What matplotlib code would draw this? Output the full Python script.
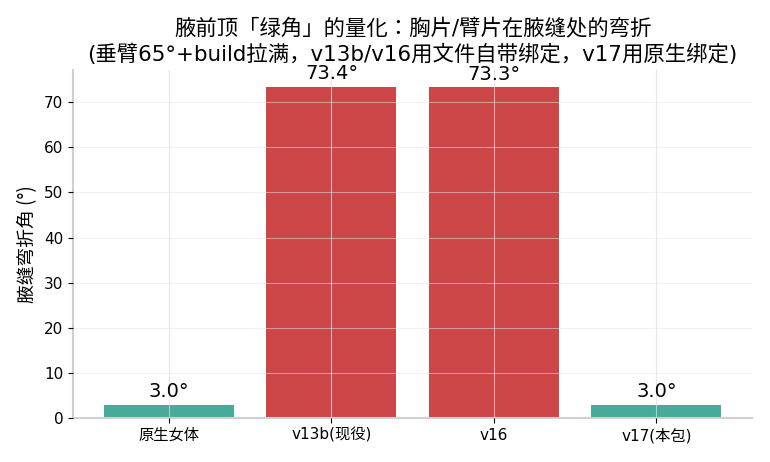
import matplotlib
matplotlib.use("Agg")
import matplotlib.pyplot as plt

categories = ["原生女体", "v13b(现役)", "v16", "v17(本包)"]
values = [3.0, 73.4, 73.3, 3.0]
colors = ["#46ab9a", "#cc4547", "#cc4547", "#46ab9a"]
labels = ["3.0°", "73.4°", "73.3°", "3.0°"]

plt.rcParams['font.family'] = ['DejaVu Sans', 'Noto Sans CJK JP']

fig, ax = plt.subplots(figsize=(7.7, 4.62), dpi=100)
ax.set_facecolor("white")
x = range(len(categories))
bars = ax.bar(x, values, width=0.8, color=colors, zorder=1)
ax.set_xticks(list(x))
ax.set_xticklabels(categories, fontsize=11)
ax.tick_params(axis='y', labelsize=11)
for b, lab in zip(bars, labels):
    ax.text(b.get_x() + b.get_width() / 2, b.get_height() + 0.8, lab,
            ha='center', va='bottom', fontsize=14)
ax.set_ylim(0, 77.07)
ax.set_ylabel("腋缝弯折角 (°)", fontsize=13.5, family=['Noto Sans CJK JP', 'DejaVu Sans'])
ax.set_title("腋前顶「绿角」的量化：胸片/臂片在腋缝处的弯折\n(垂臂65°+build拉满，v13b/v16用文件自带绑定，v17用原生绑定)",
             fontsize=15.4, pad=7)
ax.xaxis.grid(True, color="#dddddd", linewidth=0.8, alpha=0.7, zorder=2)
ax.yaxis.grid(True, color="#e6e6e6", linewidth=0.8, alpha=0.5, zorder=2)
ax.set_axisbelow(False)
for s in ["top", "right"]:
    ax.spines[s].set_visible(False)
for s in ["left", "bottom"]:
    ax.spines[s].set_color("#d0d0d0")
    ax.spines[s].set_linewidth(1.5)
fig.subplots_adjust(left=0.095, right=0.977, top=0.848, bottom=0.095)
fig.savefig("out.png", dpi=100)
